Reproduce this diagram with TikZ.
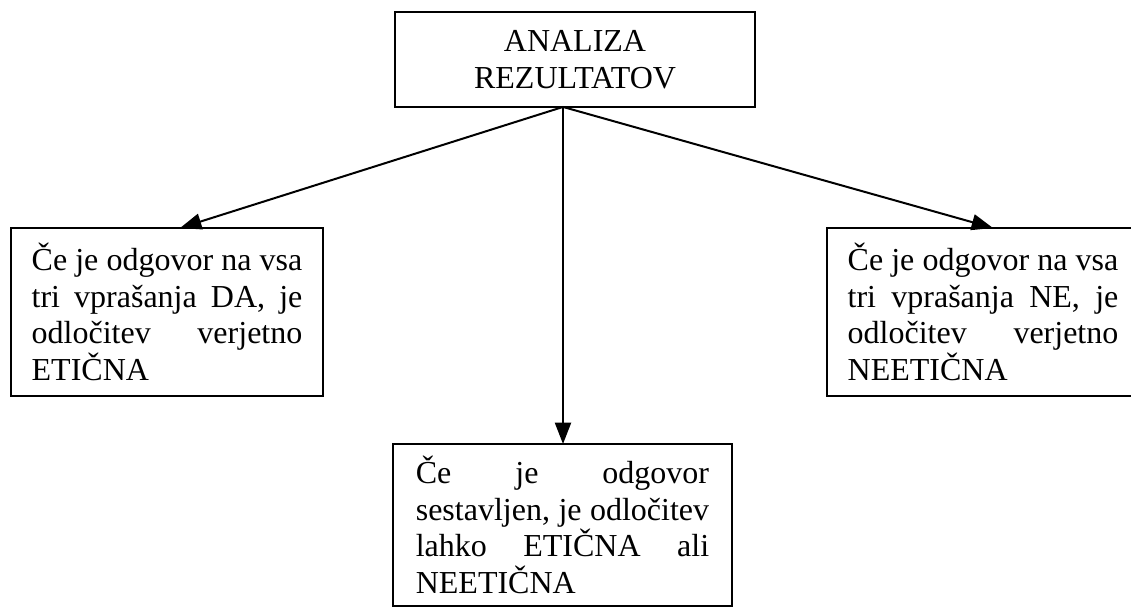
\documentclass[tikz,border=0pt]{standalone}
\usepackage{fontspec}
\setmainfont{Liberation Serif}
\usetikzlibrary{arrows.meta}
\tolerance=9999
\hbadness=10000
\hyphenpenalty=10000

\begin{document}
\begin{tikzpicture}[x=0.375pt, y=-0.375pt,
    box/.style={draw, line width=0.8pt, outer sep=0pt, inner ysep=0pt,
        anchor=north west, font=\fontsize{12pt}{13.8pt}\selectfont},
    answer/.style={box, align=justify},
    link/.style={line width=0.75pt, -{Triangle[length=8pt, width=6pt]}}]
    \useasboundingbox (0,0) rectangle (1131,608);
    \clip (0,0) rectangle (1131,608);
    % Top
    \node[box, text width=121pt, inner xsep=7pt, align=center, minimum height=35.6pt] (analiza) at (395,12) {ANALIZA\\REZULTATOV};
    % Outcomes
    \node[answer, text width=101.5pt, inner xsep=7.75pt, minimum height=63pt] (da) at (11,228) {Če je odgovor na vsa\linebreak tri vprašanja DA, je\linebreak odločitev verjetno\linebreak ETIČNA};
    \node[answer, text width=101.5pt, inner xsep=7.75pt, minimum height=63pt] (ne) at (827,228) {Če je odgovor na vsa\linebreak tri vprašanja NE, je\linebreak odločitev verjetno\linebreak NEETIČNA};
    \node[answer, text width=110pt, inner xsep=8.55pt, minimum height=60.75pt] (mix) at (393,444) {Če je odgovor\linebreak sestavljen, je odločitev\linebreak lahko ETIČNA ali\linebreak NEETIČNA};
    % Arrows
    \coordinate (fork) at ([xshift=-4.5pt]analiza.south);
    \draw[link] (fork) -- ([xshift=4.9pt]da.north);
    \draw[link] (fork) -- (fork |- mix.north);
    \draw[link] (fork) -- ([xshift=3.75pt]ne.north);
\end{tikzpicture}
\end{document}
